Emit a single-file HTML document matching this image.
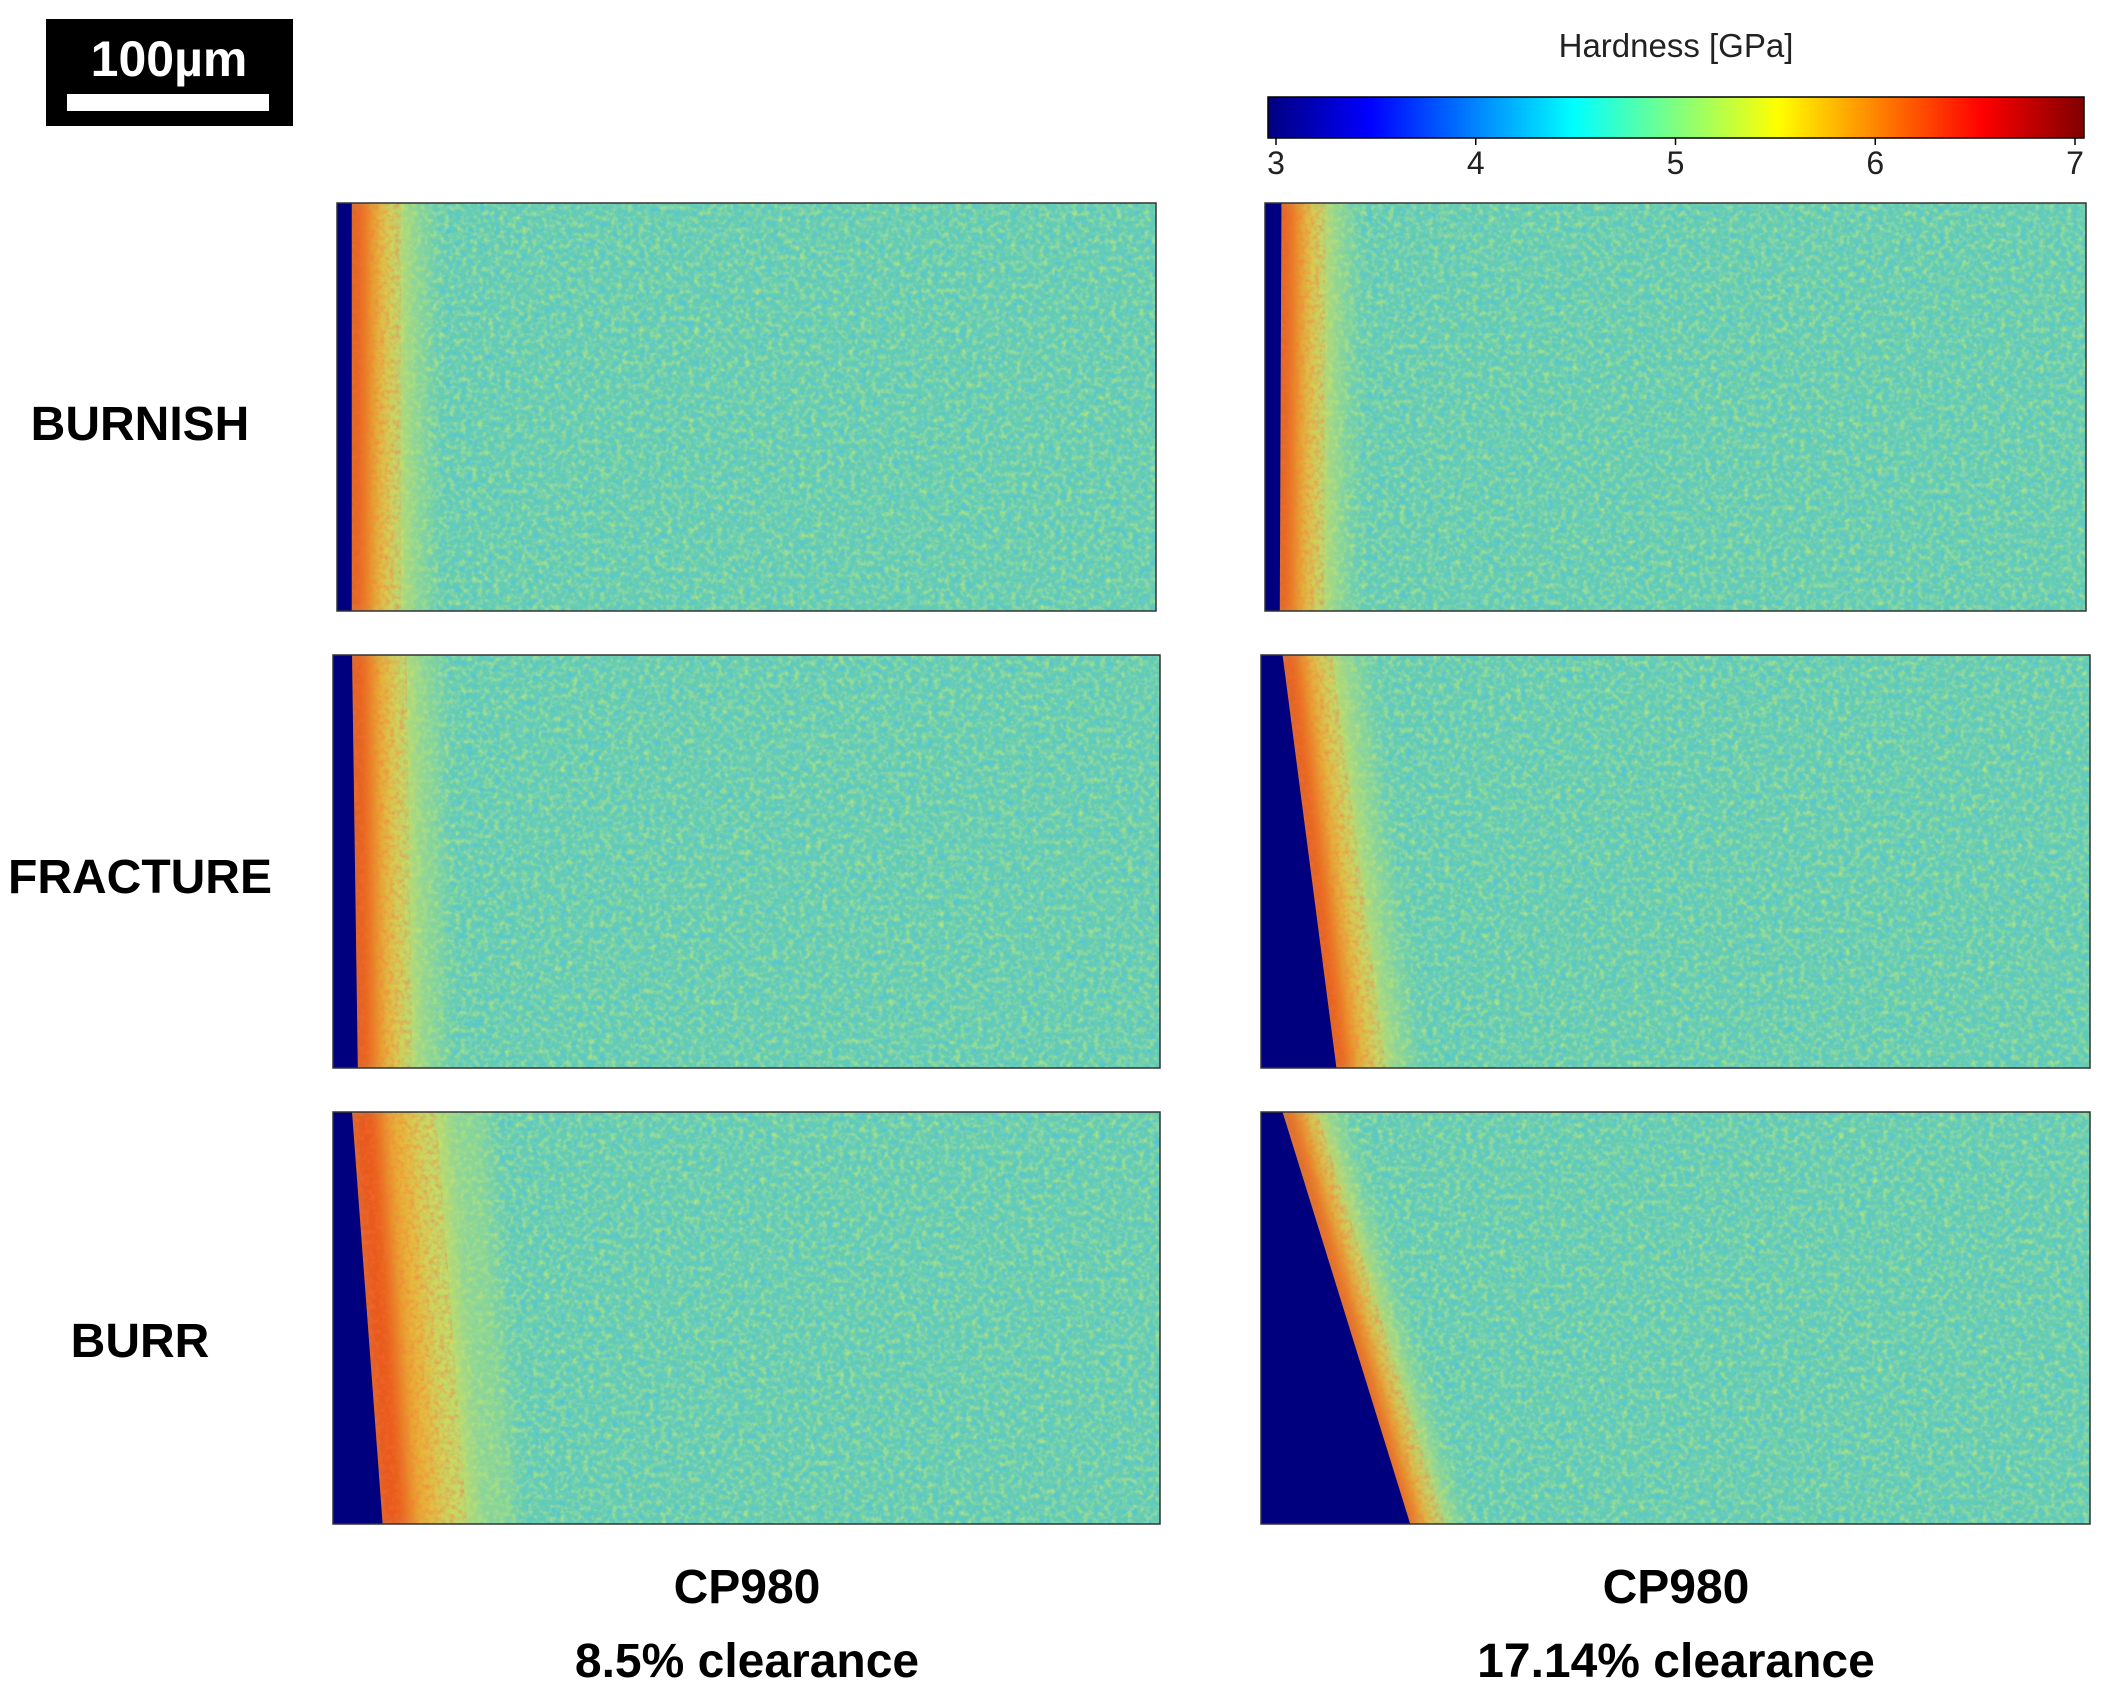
<!DOCTYPE html>
<html><head><meta charset="utf-8"><style>
html,body{margin:0;padding:0;background:#fff;}
svg{display:block;font-family:"Liberation Sans","DejaVu Sans",sans-serif;}
</style></head><body>
<svg id="fig" width="2106" height="1701" viewBox="0 0 2106 1701" xmlns="http://www.w3.org/2000/svg">
<defs>
<linearGradient id="jet" x1="0" x2="1" y1="0" y2="0">
<stop offset="0" stop-color="#00007f"/><stop offset="0.125" stop-color="#0000ff"/>
<stop offset="0.375" stop-color="#00ffff"/><stop offset="0.625" stop-color="#ffff00"/>
<stop offset="0.875" stop-color="#ff0000"/><stop offset="1" stop-color="#7f0000"/>
</linearGradient>
<filter id="blur" x="-20%" y="-20%" width="140%" height="140%"><feGaussianBlur stdDeviation="9"/></filter>
<filter id="noise" x="0" y="0" width="100%" height="100%">
<feTurbulence type="fractalNoise" baseFrequency="0.18" numOctaves="2" seed="3"/>
<feColorMatrix type="matrix" values="0 0 0 0 0.95  0 0 0 0 0.95  0 0 0 0 0.1  0 0 0 1.8 -0.75"/>
</filter>
<filter id="noise2" x="0" y="0" width="100%" height="100%">
<feTurbulence type="fractalNoise" baseFrequency="0.15" numOctaves="2" seed="11"/>
<feColorMatrix type="matrix" values="0 0 0 0 0.05  0 0 0 0 0.5  0 0 0 0 1  0 0 0 1.8 -0.8"/>
</filter>
<filter id="noise3" x="0" y="0" width="100%" height="100%">
<feTurbulence type="fractalNoise" baseFrequency="0.2" numOctaves="2" seed="21"/>
<feColorMatrix type="matrix" values="0 0 0 0 1  0 0 0 0 0.15  0 0 0 0 0.05  0 0 0 2 -0.8"/>
<feComposite in2="SourceGraphic" operator="in"/>
</filter>
</defs>

<g>
<rect x="46" y="19" width="247" height="107" fill="#000"/>
<text x="169" y="76" text-anchor="middle" font-size="50" font-weight="bold" fill="#fff">100µm</text>
<rect x="67" y="94" width="202" height="17" fill="#fff"/>
</g>

<g>
<text x="1676" y="57" text-anchor="middle" font-size="33" fill="#222">Hardness [GPa]</text>
<rect x="1268" y="97" width="816" height="41" fill="url(#jet)" stroke="#000" stroke-width="1.5"/>
<g id="cbticks"></g>
</g>

<g id="panels"></g>

<g font-size="48" font-weight="bold" text-anchor="middle" fill="#000">
<text x="140" y="440">BURNISH</text>
<text x="140" y="893">FRACTURE</text>
<text x="140" y="1357">BURR</text>
</g>
<g font-size="48" font-weight="bold" text-anchor="middle" fill="#000">
<text x="747" y="1603">CP980</text>
<text x="747" y="1677">8.5% clearance</text>
<text x="1676" y="1603">CP980</text>
<text x="1676" y="1677">17.14% clearance</text>
</g>
</svg>
<script>
// colorbar data
const cbTicks = [3, 4, 5, 6, 7];
const cbMin = 3, cbMax = 7;
// panel data: edge position (fraction of width) at top/bottom, hot-band width fraction
const panelNames = ['burnish-8-5', 'burnish-17-14', 'fracture-8-5', 'fracture-17-14', 'burr-8-5', 'burr-17-14'];
const edgeTop = [0.018, 0.02, 0.023, 0.026, 0.023, 0.026];
const edgeBottom = [0.018, 0.018, 0.03, 0.091, 0.06, 0.18];
const hotBand = [0.05, 0.045, 0.055, 0.05, 0.085, 0.035];

const NS = 'http://www.w3.org/2000/svg';
const cbX = v => 1276 + (v - cbMin) / (cbMax - cbMin) * (2075 - 1276);
const cbg = document.getElementById('cbticks');
cbTicks.forEach(t => {
  const l = document.createElementNS(NS, 'line');
  l.setAttribute('x1', cbX(t)); l.setAttribute('x2', cbX(t));
  l.setAttribute('y1', 138); l.setAttribute('y2', 145);
  l.setAttribute('stroke', '#000'); l.setAttribute('stroke-width', 1.5);
  
  
  cbg.appendChild(l);
  const tx = document.createElementNS(NS, 'text');
  tx.setAttribute('x', cbX(t)); tx.setAttribute('y', 174);
  tx.setAttribute('text-anchor', 'middle'); tx.setAttribute('font-size', 32); tx.setAttribute('fill', '#222');
  tx.textContent = t;
  
  
  cbg.appendChild(tx);
});

const boxes = [
  [337, 203, 819, 408], [1265, 203, 821, 408],
  [333, 655, 827, 413], [1261, 655, 829, 413],
  [333, 1112, 827, 412], [1261, 1112, 829, 412]
];
const pg = document.getElementById('panels');
const layers = [[1.9, '#b8e070', 0.45], [1.3, '#f0e040', 0.55], [0.85, '#ffa020', 0.6], [0.45, '#e83010', 0.7]];
panelNames.forEach((n, i) => {
  const [x, y, w, h] = boxes[i];
  const g = document.createElementNS(NS, 'g');
  
  
  const cid = 'clip' + i;
  const cp = document.createElementNS(NS, 'clipPath'); cp.setAttribute('id', cid);
  const cr = document.createElementNS(NS, 'rect');
  cr.setAttribute('x', x); cr.setAttribute('y', y); cr.setAttribute('width', w); cr.setAttribute('height', h);
  cp.appendChild(cr); g.appendChild(cp);
  const inner = document.createElementNS(NS, 'g'); inner.setAttribute('clip-path', `url(#${cid})`);
  const base = document.createElementNS(NS, 'rect');
  base.setAttribute('x', x); base.setAttribute('y', y); base.setAttribute('width', w); base.setAttribute('height', h);
  base.setAttribute('fill', '#64ccb4');
  inner.appendChild(base);
  [['noise', 0.6], ['noise2', 0.6]].forEach(([f, o]) => {
    const r = document.createElementNS(NS, 'rect');
    r.setAttribute('x', x); r.setAttribute('y', y); r.setAttribute('width', w); r.setAttribute('height', h);
    r.setAttribute('filter', `url(#${f})`); r.setAttribute('opacity', o);
    inner.appendChild(r);
  });
  const et = x + edgeTop[i] * w, eb = x + edgeBottom[i] * w, b = hotBand[i] * w;
  const hot = document.createElementNS(NS, 'g'); hot.setAttribute('filter', 'url(#blur)');
  layers.forEach(([f, c, o]) => {
    const p = document.createElementNS(NS, 'polygon');
    p.setAttribute('points', `${et - 10},${y - 10} ${et + b * f},${y - 10} ${eb + b * f},${y + h + 10} ${eb - 10},${y + h + 10}`);
    p.setAttribute('fill', c); p.setAttribute('opacity', o);
    hot.appendChild(p);
  });
  inner.appendChild(hot);
  // speckle over hot band, following the slanted edge
  const sp = document.createElementNS(NS, 'polygon');
  sp.setAttribute('points', `${et},${y} ${et + b * 1.2},${y} ${eb + b * 1.2},${y + h} ${eb},${y + h}`);
  sp.setAttribute('fill', '#fff');
  sp.setAttribute('filter', 'url(#noise3)'); sp.setAttribute('opacity', 0.5);
  inner.appendChild(sp);
  const blue = document.createElementNS(NS, 'polygon');
  blue.setAttribute('points', `${x},${y} ${et},${y} ${eb},${y + h} ${x},${y + h}`);
  blue.setAttribute('fill', '#00007f');
  
  
  inner.appendChild(blue);
  g.appendChild(inner);
  const bd = document.createElementNS(NS, 'rect');
  bd.setAttribute('x', x); bd.setAttribute('y', y); bd.setAttribute('width', w); bd.setAttribute('height', h);
  bd.setAttribute('fill', 'none'); bd.setAttribute('stroke', '#333'); bd.setAttribute('stroke-width', 1.5);
  g.appendChild(bd);
  pg.appendChild(g);
});
</script>
</body></html>
